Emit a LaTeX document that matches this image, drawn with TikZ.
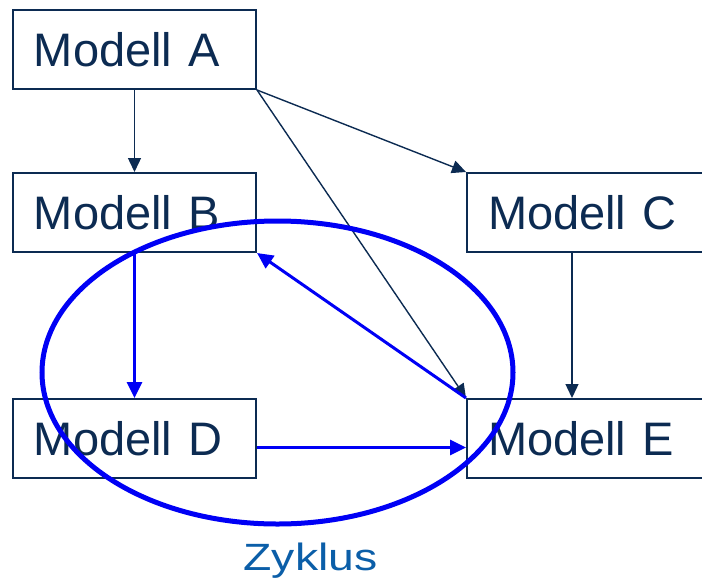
\documentclass[tikz,border=0pt]{standalone}
\usepackage{fontspec}
\setmainfont{Liberation Sans}
\usetikzlibrary{arrows.meta}
\definecolor{navy}{HTML}{0C2B52}
\definecolor{cycleblue}{HTML}{0000F5}
\definecolor{labelblue}{HTML}{0B5EA8}
\tikzset{
  model/.style={draw=navy, line width=2pt, anchor=north west,
    minimum height=79pt, text width=201pt, inner xsep=21pt, inner ysep=0pt,
    align=left, text=navy, font=\fontsize{47}{50}\selectfont},
  dep/.style={draw=navy, line width=1.4pt, -{Triangle[length=14pt,width=13pt]}},
  cyc/.style={draw=cycleblue, line width=3pt, -{Triangle[length=16pt,width=15pt]}},
}
\begin{document}
\begin{tikzpicture}[x=1pt, y=-1pt]
\useasboundingbox (0,0) rectangle (702,587);

\node[model] (A) at (12,9)   {Modell A};
\node[model] (B) at (12,172) {Modell B};
\node[model] (C) at (466,172) {Modell C};
\node[model] (D) at (12,398) {Modell D};
\node[model] (E) at (466,398) {Modell E};

% dependencies
\draw[dep] (A.south) -- (B.north);
\draw[dep] (A.south east) -- (C.north west);
\draw[dep] (A.south east) -- (E.north west);
\draw[dep] ([xshift=106pt]C.south west) -- ([xshift=106pt]E.north west);

% cycle
\draw[cyc] (B.south) -- (D.north);
\draw[cyc] ([yshift=-9pt]D.east) -- ([yshift=-9pt]E.west);
\draw[cyc] (E.north west) -- (B.south east);

\draw[cycleblue, line width=5pt] (277.5,372.5) ellipse [x radius=235.5pt, y radius=151.5pt];
\node[text=labelblue, font=\fontsize{38}{41}\selectfont, anchor=base, inner sep=0pt] (zyklus) at (310.5,570) {\scalebox{1.22}[1]{Zyklus}};
\end{tikzpicture}
\end{document}
